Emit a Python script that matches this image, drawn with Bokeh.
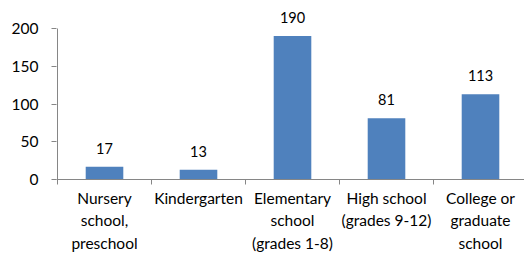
from bokeh.plotting import figure
from bokeh.models import FixedTicker, ColumnDataSource, LabelSet, Range1d
from bokeh.core.properties import value
from bokeh.embed import file_html
from bokeh.resources import INLINE

categories = ["Nursery\nschool,\npreschool", "Kindergarten", "Elementary\nschool\n(grades 1-8)",
              "High school\n(grades 9-12)", "College or\ngraduate\nschool"]
values = [17, 13, 190, 81, 113]
y_ticks = [0, 50, 100, 150, 200]

FONT = "Lato"
AXIS_COLOR = "#868686"
xs = [i + 0.5 for i in range(len(values))]

W, H = 524, 254
LEFT = 56
BOTTOM = 75
PX_PER_CAT = 94.0
FRAME_W = W - LEFT
FRAME_H = H - BOTTOM
PX_PER_UNIT = 151.0 / 200.0
Y_END = FRAME_H / PX_PER_UNIT

p = figure(width=W, height=H, output_backend="svg", toolbar_location=None,
           x_range=Range1d(-1.0 / PX_PER_CAT, (FRAME_W - 1.0) / PX_PER_CAT),
           y_range=Range1d(0, Y_END),
           min_border_left=LEFT, min_border_top=0, min_border_right=0, min_border_bottom=BOTTOM)
p.outline_line_color = None
p.xgrid.visible = False
p.ygrid.visible = False
p.background_fill_color = "white"

src = ColumnDataSource(dict(x=xs, top=values, label=[str(v) for v in values]))
p.vbar(x="x", top="top", width=0.4, bottom=0, source=src, color="#4F81BD", line_color=None)

# y axis line, from 0 to the top tick only
p.segment(x0=[0], y0=[0], x1=[0], y1=[y_ticks[-1]], line_color=AXIS_COLOR, line_width=1)

labels = LabelSet(x="x", y="top", text="label", source=src, y_offset=13, text_align="center",
                  text_baseline="alphabetic", text_font=value(FONT), text_font_size="14.5px",
                  text_color="#000000")
p.add_layout(labels)

# x axis
p.xaxis.ticker = FixedTicker(ticks=xs, minor_ticks=list(range(len(values) + 1)))
p.xaxis.major_label_overrides = {x: c for x, c in zip(xs, categories)}
p.xaxis.major_tick_out = 0
p.xaxis.major_tick_in = 0
p.xaxis.minor_tick_out = 5
p.xaxis.minor_tick_in = 0
p.xaxis.minor_tick_line_color = AXIS_COLOR
p.xaxis.axis_line_color = AXIS_COLOR
p.xaxis.major_label_text_font = FONT
p.xaxis.major_label_text_font_size = "15.5px"
p.xaxis.major_label_text_line_height = 1.25
p.xaxis.major_label_standoff = 4
p.xaxis.major_label_text_color = "#000000"

# y axis
p.yaxis.ticker = FixedTicker(ticks=y_ticks)
p.yaxis.minor_tick_line_color = None
p.yaxis.major_tick_out = 5
p.yaxis.major_tick_in = 0
p.yaxis.major_tick_line_color = AXIS_COLOR
p.yaxis.axis_line_color = None
p.yaxis.major_label_text_font = FONT
p.yaxis.major_label_text_font_size = "15.5px"
p.yaxis.major_label_standoff = 13
p.yaxis.major_label_text_color = "#000000"

open("out.html", "w").write(file_html(p, INLINE))
